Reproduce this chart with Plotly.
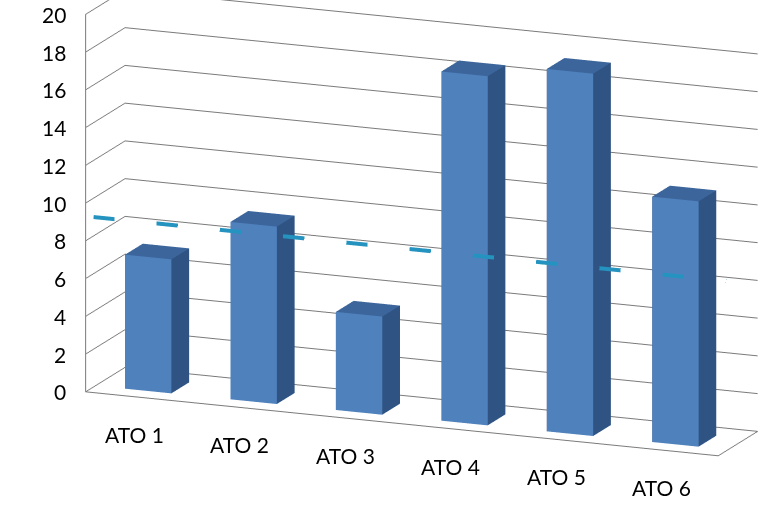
import math
import plotly.graph_objects as go

categories = ["ATO 1", "ATO 2", "ATO 3", "ATO 4", "ATO 5", "ATO 6"]
values = [7.1, 9.4, 5.2, 18.5, 19.2, 13.0]
target_x = [0.5, 6.5]
target_y = [9.0, 9.0]
z_ticks = list(range(0, 21, 2))

FRONT = "#4f81bd"
SIDE = "#2f5483"
TOP = "#3c659b"

bar_w = 0.22   # half width along x
d0, d1 = 0.25, 0.7  # depth extent

xs, ys, zs, ii, jj, kk, fc = [], [], [], [], [], [], []
for idx, v in enumerate(values):
    cx = idx + 1
    base = len(xs)
    corners = [
        (cx - bar_w, d0, 0), (cx + bar_w, d0, 0), (cx + bar_w, d1, 0), (cx - bar_w, d1, 0),
        (cx - bar_w, d0, v), (cx + bar_w, d0, v), (cx + bar_w, d1, v), (cx - bar_w, d1, v),
    ]
    for c in corners:
        xs.append(c[0]); ys.append(c[1]); zs.append(c[2])
    faces = [
        ((0, 1, 5), FRONT), ((0, 5, 4), FRONT),
        ((1, 2, 6), SIDE), ((1, 6, 5), SIDE),
        ((4, 5, 6), TOP), ((4, 6, 7), TOP),
        ((3, 2, 6), SIDE), ((3, 6, 7), SIDE),
        ((0, 3, 7), SIDE), ((0, 7, 4), SIDE),
        ((0, 1, 2), FRONT), ((0, 2, 3), FRONT),
    ]
    for (a, b, c), col in faces:
        ii.append(base + a); jj.append(base + b); kk.append(base + c); fc.append(col)

fig = go.Figure()
fig.add_trace(go.Mesh3d(
    x=xs, y=ys, z=zs, i=ii, j=jj, k=kk, facecolor=fc, flatshading=True,
    lighting=dict(ambient=1, diffuse=0, specular=0, fresnel=0, roughness=1),
    hoverinfo="skip", showscale=False,
))
fig.add_trace(go.Scatter3d(
    x=target_x, y=[0.2, 0.2], z=target_y, mode="lines",
    line=dict(color="#2593bf", width=8, dash="longdash"), hoverinfo="skip",
))

az = math.radians(22)
el = math.radians(14.5)
R = 2.0
d = (math.cos(el) * math.sin(az), -math.cos(el) * math.cos(az), math.sin(el))
c = (-0.113, -0.081, -0.127)
eye = dict(x=c[0] + R * d[0], y=c[1] + R * d[1], z=c[2] + R * d[2])

label_font = dict(family="Lato, Open Sans, sans-serif", size=21, color="#000000")
annotations = []
for i, name in enumerate(categories):
    annotations.append(dict(x=i + 1, y=0, z=0, text=name, showarrow=False,
                            xanchor="center", yanchor="middle", yshift=-37, xshift=-4,
                            font=label_font))
for v in z_ticks:
    annotations.append(dict(x=0.5, y=0, z=v, text=str(v), showarrow=False,
                            xanchor="right", yanchor="middle", xshift=-18, font=label_font))

fig.update_layout(
    width=774, height=513, margin=dict(l=0, r=0, t=0, b=0),
    paper_bgcolor="white", showlegend=False,
    scene=dict(
        domain=dict(x=[0, 1], y=[0, 1]),
        aspectmode="manual", aspectratio=dict(x=2.66, y=0.41, z=1.52),
        xaxis=dict(range=[0.5, 6.5], tickvals=[1, 2, 3, 4, 5, 6], showticklabels=False,
                   showgrid=False, zeroline=False, showbackground=False, showline=True,
                   linecolor="#7a7a7a", linewidth=2, title=dict(text=""),
                   showspikes=False, ticks=""),
        yaxis=dict(range=[0, 1], showgrid=False, zeroline=False, showbackground=False,
                   showticklabels=False, showline=True, linecolor="#7a7a7a", linewidth=2,
                   title=dict(text=""), showspikes=False, ticks=""),
        zaxis=dict(range=[0, 20], tickvals=z_ticks, showticklabels=False, showgrid=True,
                   gridcolor="#7a7a7a", gridwidth=2, zeroline=False, showbackground=False,
                   showline=True, linecolor="#7a7a7a", linewidth=2, title=dict(text=""),
                   showspikes=False, ticks=""),
        camera=dict(eye=eye, center=dict(x=c[0], y=c[1], z=c[2]), up=dict(x=0, y=0, z=1),
                    projection=dict(type="orthographic")),
        annotations=annotations,
    ),
)
fig.write_html("out.html")
